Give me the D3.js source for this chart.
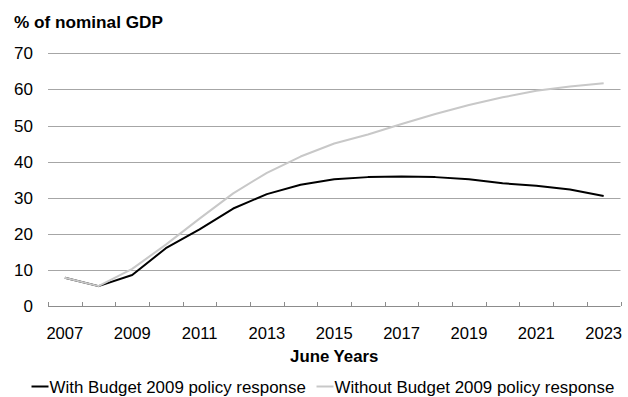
<!DOCTYPE html>
<html>
<head>
<meta charset="utf-8">
<script src="https://cdn.jsdelivr.net/npm/d3@7"></script>
<style>
  body { margin: 0; background: #fff; }
  svg { display: block; font-family: "Liberation Sans", Arial, sans-serif; }
</style>
</head>
<body>
<script>
// data
const years = d3.range(2007, 2024);
const withResponse = [7.8, 5.5, 8.6, 16.0, 21.2, 27.0, 31.0, 33.6, 35.1, 35.7, 35.9, 35.7, 35.1, 34.0, 33.3, 32.3, 30.5];
const withoutResponse = [7.8, 5.5, 10.3, 17.0, 24.2, 31.2, 36.9, 41.4, 45.0, 47.5, 50.4, 53.2, 55.7, 57.8, 59.6, 60.8, 61.7];
const yTicks = [0, 10, 20, 30, 40, 50, 60, 70];
const seriesNames = ["With Budget 2009 policy response", "Without Budget 2009 policy response"];
const seriesColors = ["#000000", "#c8c8c8"];

const width = 628, height = 397;
const plotLeft = 48, plotRight = 620.5, plotTop = 53.3, plotBottom = 306;

const svg = d3.select("body").append("svg")
  .attr("width", width)
  .attr("height", height);

const x = d3.scaleBand().domain(years).range([plotLeft, plotRight]).paddingInner(0).paddingOuter(0);
const y = d3.scaleLinear().domain([0, 70]).range([plotBottom, plotTop]);

// gridlines
svg.append("g")
  .selectAll("line")
  .data(yTicks.filter((d) => d > 0))
  .join("line")
  .attr("x1", plotLeft)
  .attr("x2", plotRight)
  .attr("y1", (d) => Math.round(y(d)) + 0.5)
  .attr("y2", (d) => Math.round(y(d)) + 0.5)
  .attr("stroke", "#a6a6a6")
  .attr("stroke-width", 1);

// y labels
svg.append("g")
  .selectAll("text")
  .data(yTicks)
  .join("text")
  .attr("x", 33)
  .attr("y", (d) => y(d) + 6)
  .attr("text-anchor", "end")
  .attr("font-size", 17)
  .attr("fill", "#000")
  .text((d) => d);

// x axis with ticks between categories
const xAxis = svg.append("g");
xAxis.append("line")
  .attr("x1", plotLeft).attr("x2", plotRight)
  .attr("y1", Math.round(plotBottom) + 0.5).attr("y2", Math.round(plotBottom) + 0.5)
  .attr("stroke", "#8c8c8c");
xAxis.selectAll("line.tick")
  .data(years.concat([null]))
  .join("line")
  .attr("class", "tick")
  .attr("x1", (d) => Math.round(d === null ? plotRight : x(d)) + 0.5)
  .attr("x2", (d) => Math.round(d === null ? plotRight : x(d)) + 0.5)
  .attr("y1", Math.round(plotBottom) - 4)
  .attr("y2", Math.round(plotBottom))
  .attr("stroke", "#8c8c8c");
xAxis.selectAll("text")
  .data(years.filter((d) => (d - 2007) % 2 === 0))
  .join("text")
  .attr("x", (d) => x(d) + x.bandwidth() / 2)
  .attr("y", 338.5)
  .attr("text-anchor", "middle")
  .attr("font-size", 16.6)
  .text((d) => d);

// series lines (grey drawn last, it sits on top in the reference)
const line = d3.line()
  .x((d, i) => x(years[i]) + x.bandwidth() / 2)
  .y((d) => y(d));

svg.append("g")
  .selectAll("path")
  .data([withResponse, withoutResponse])
  .join("path")
  .attr("d", (d) => line(d))
  .attr("fill", "none")
  .attr("stroke", (d, i) => seriesColors[i])
  .attr("stroke-width", 2)
  .attr("stroke-linejoin", "round");

// titles
svg.append("text")
  .attr("x", 14).attr("y", 28)
  .attr("font-size", 17.2)
  .attr("font-weight", "bold")
  .text("% of nominal GDP");

svg.append("text")
  .attr("x", (plotLeft + plotRight) / 2).attr("y", 362)
  .attr("text-anchor", "middle")
  .attr("font-size", 16.8)
  .attr("font-weight", "bold")
  .text("June Years");

// legend
const legendX = [31.5, 316.5];
const legend = svg.append("g")
  .selectAll("g")
  .data(seriesNames)
  .join("g")
  .attr("transform", (d, i) => `translate(${legendX[i]},386.5)`);
legend.append("line")
  .attr("x1", 0).attr("x2", 17)
  .attr("stroke", (d, i) => seriesColors[i])
  .attr("stroke-width", 2);
legend.append("text")
  .attr("x", 18).attr("y", 6)
  .attr("font-size", 16.9)
  .text((d) => d);
</script>
</body>
</html>
